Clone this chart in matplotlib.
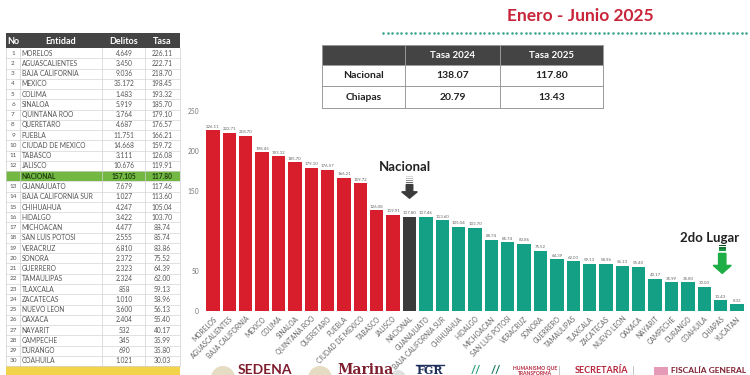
#!/usr/bin/env python3
"""Tasa de delitos por entidad, Enero - Junio 2025."""

import matplotlib

matplotlib.use("Agg")

import matplotlib.pyplot as plt
from matplotlib.patches import Rectangle, FancyArrow, Circle

plt.rcParams["font.family"] = ["Lato", "DejaVu Sans"]

# ---- data -------------------------------------------------------------
estados = [
    "MORELOS", "AGUASCALIENTES", "BAJA CALIFORNIA", "MEXICO", "COLIMA", "SINALOA",
    "QUINTANA ROO", "QUERETARO", "PUEBLA", "CIUDAD DE MEXICO", "TABASCO", "JALISCO",
    "NACIONAL", "GUANAJUATO", "BAJA CALIFORNIA SUR", "CHIHUAHUA", "HIDALGO",
    "MICHOACAN", "SAN LUIS POTOSI", "VERACRUZ", "SONORA", "GUERRERO", "TAMAULIPAS",
    "TLAXCALA", "ZACATECAS", "NUEVO LEON", "OAXACA", "NAYARIT", "CAMPECHE",
    "DURANGO", "COAHUILA", "CHIAPAS", "YUCATAN",
]
tasas = [
    226.11, 222.71, 218.70, 198.45, 193.32, 185.70, 179.10, 176.57, 166.21, 159.72,
    126.08, 119.91, 117.80, 117.46, 113.60, 105.04, 103.70, 88.74, 85.74, 83.86,
    75.52, 64.39, 62.00, 59.13, 58.96, 56.13, 55.40, 40.17, 35.99, 35.80, 30.03,
    13.43, 8.33,
]
delitos = [
    "4.649", "3.450", "9.036", "35.172", "1.483", "5.919", "3.764", "4.687", "11.751",
    "14.668", "3.111", "10.676", "157.105", "7.679", "1.027", "4.247", "3.422", "4.477",
    "2.555", "6.810", "2.372", "2.323", "2.324", "858", "1.010", "3.600", "2.404",
    "532", "345", "690", "1.021",
]
resumen_filas = ["Nacional", "Chiapas"]
resumen_cols = ["Tasa 2024", "Tasa 2025"]
resumen_2024 = [138.07, 20.79]
resumen_2025 = [117.80, 13.43]
y_ticks = [0, 50, 150, 200, 250]

RED = "#d81e2c"
TEAL = "#14a085"
DARK = "#3b3b3b"
HEAD = "#444444"
GRAY_TXT = "#555555"

W, H = 750, 375
fig = plt.figure(figsize=(7.5, 3.75), dpi=100)
fig.patch.set_facecolor("white")

# overlay in pixel coordinates for the tables and decorations
ov = fig.add_axes([0, 0, 1, 1])
ov.set_xlim(0, W)
ov.set_ylim(H, 0)
ov.axis("off")

# ---- left table ---------------------------------------------------------
col_x = [6, 20, 102, 145, 180]
head_top, head_h = 33, 15
row_h = 10.26
ov.add_patch(Rectangle((col_x[0], head_top), col_x[-1] - col_x[0], head_h, color=HEAD, lw=0))
for label, x0, x1 in zip(["No", "Entidad", "Delitos", "Tasa"], col_x[:-1], col_x[1:]):
    ov.text((x0 + x1) / 2, head_top + head_h / 2 + 0.5, label, color="white",
            fontsize=6.5, fontweight="bold", ha="center", va="center")

rank = 0
n_rows = len(delitos)
for i in range(n_rows + 1):
    y0 = head_top + head_h + i * row_h
    if i == n_rows:
        ov.add_patch(Rectangle((col_x[0], y0), col_x[-1] - col_x[0], row_h,
                               color="#f3d34a", lw=0))
        break
    name = estados[i]
    nacional = name == "NACIONAL"
    if nacional:
        ov.add_patch(Rectangle((col_x[0], y0), col_x[-1] - col_x[0], row_h,
                               color="#73b843", lw=0))
    else:
        rank += 1
        ov.text(13, y0 + row_h / 2, str(rank), fontsize=4.6, color=GRAY_TXT,
                ha="center", va="center")
    weight = "bold" if nacional else "normal"
    color = "#1e3d10" if nacional else GRAY_TXT
    ov.text(col_x[1] + 1.5, y0 + row_h / 2, name, fontsize=4.8, color=color,
            fontweight=weight, ha="left", va="center")
    ov.text(124, y0 + row_h / 2, delitos[i], fontsize=4.8, color=color,
            fontweight=weight, ha="center", va="center")
    ov.text(162, y0 + row_h / 2, f"{tasas[i]:.2f}", fontsize=4.8, color=color,
            fontweight=weight, ha="center", va="center")
    ov.plot([col_x[0], col_x[-1]], [y0 + row_h, y0 + row_h], color="#d4d4d4", lw=0.5)
table_bottom = head_top + head_h + n_rows * row_h
for x in col_x:
    ov.plot([x, x], [head_top + head_h, table_bottom], color="#d0d0d0", lw=0.5)

# ---- title and summary table ------------------------------------------
ov.text(580, 16, "Enero - Junio 2025", color="#c8243a", fontsize=12.5,
        fontweight="bold", ha="center", va="center")
ov.scatter([383 + k * 4.6 for k in range(80)], [33] * 80, s=3.5, color="#3fa68f", lw=0)

t_x = [322, 405, 500, 603]
t_y = [45, 65, 86, 108]
ov.add_patch(Rectangle((t_x[0], t_y[0]), t_x[-1] - t_x[0], t_y[1] - t_y[0], color=HEAD, lw=0))
for label, x0, x1 in zip(resumen_cols, t_x[1:-1], t_x[2:]):
    ov.text((x0 + x1) / 2, (t_y[0] + t_y[1]) / 2, label, color="white", fontsize=7,
            fontweight="bold", ha="center", va="center")
for j, (fila, v24, v25) in enumerate(zip(resumen_filas, resumen_2024, resumen_2025)):
    yc = (t_y[j + 1] + t_y[j + 2]) / 2
    ov.text((t_x[0] + t_x[1]) / 2, yc, fila, fontsize=7.5, fontweight="bold",
            color="#222222", ha="center", va="center")
    ov.text((t_x[1] + t_x[2]) / 2, yc, f"{v24:.2f}", fontsize=7.5, fontweight="bold",
            color="#222222", ha="center", va="center")
    ov.text((t_x[2] + t_x[3]) / 2, yc, f"{v25:.2f}", fontsize=7.5, fontweight="bold",
            color="#222222", ha="center", va="center")
for y in t_y:
    ov.plot([t_x[0], t_x[-1]], [y, y], color="#9a9a9a", lw=0.7)
for x in t_x:
    ov.plot([x, x], [t_y[0], t_y[-1]], color="#9a9a9a", lw=0.7)

# ---- bar chart ----------------------------------------------------------
ax = fig.add_axes([203.2 / W, (H - 311) / H, 543.6 / W, 208 / H])
ax.set_facecolor("none")
colors = [DARK if e == "NACIONAL" else (RED if i < 12 else TEAL) for i, e in enumerate(estados)]
xs = list(range(len(estados)))
ax.bar(xs, tasas, width=0.82, color=colors)
for x, v in zip(xs, tasas):
    ax.text(x, v + 2, f"{v:.2f}", fontsize=3.2, color="#666666", ha="center", va="bottom")
ax.set_xlim(-0.6, len(estados) - 0.4)
ax.set_ylim(0, 260)
ax.set_yticks(y_ticks)
ax.set_yticklabels([str(t) for t in y_ticks], fontsize=4.8, color="#777777")
ax.set_xticks(xs)
ax.set_xticklabels(estados, rotation=45, ha="right", rotation_mode="anchor",
                   fontsize=4.8, color="#666666")
ax.tick_params(length=0, pad=3)
for s in ax.spines.values():
    s.set_visible(False)

ax.text(11.7, 180, "Nacional", fontsize=9.5, fontweight="bold", color="#222222",
        ha="center", va="center")
ax.add_patch(FancyArrow(12, 158, 0, -17, width=0.4, head_width=0.95, head_length=8,
                        length_includes_head=True, color=DARK, clip_on=False))
for k, a in enumerate([0.2, 0.35, 0.55, 0.75]):
    ax.add_patch(Rectangle((11.8, 167 - k * 2.4), 0.4, 1.6, color=DARK, alpha=a,
                           lw=0, clip_on=False))
ax.text(30.3, 91, "2do Lugar", fontsize=9.5, fontweight="bold", color="#222222",
        ha="center", va="center")
ax.add_patch(FancyArrow(31.1, 72, 0, -25, width=0.45, head_width=1.1, head_length=10,
                        length_includes_head=True, color="#1fae45", clip_on=False))
for k in range(3):
    ax.add_patch(Rectangle((30.875, 81 - k * 2.9), 0.45, 2.0,
                           color=["#0d4a25", "#157a37", "#1c9a42"][k], lw=0, clip_on=False))

# ---- footer logos -----------------------------------------------------
ov.add_patch(Circle((223, 378), 12, color="#e6dcc3", lw=0))
ov.text(238, 373.5, "SEDENA", fontsize=10, fontweight="bold", color="#7d1d2e",
        ha="left", va="baseline")
ov.add_patch(Circle((320, 378), 12, color="#e6dcc3", lw=0))
ov.text(337, 373.5, "Marina", fontsize=10, fontweight="bold", color="#7d1d2e",
        ha="left", va="baseline", family="DejaVu Serif")
ov.add_patch(Circle((398, 378), 8, color="#e0e0e0", lw=0))
ov.plot([416, 444], [365, 365], color="#1f2f5c", lw=1)
ov.text(430, 373.5, "FGR", fontsize=8, fontweight="bold", color="#1f2f5c",
        ha="center", va="baseline", family="DejaVu Serif")
ov.text(476, 373.5, "//", fontsize=8, fontweight="bold", color="#1f9a78",
        ha="center", va="baseline")
ov.text(496, 373.5, "//", fontsize=8, fontweight="bold", color="#137559",
        ha="center", va="baseline")
ov.text(535, 366, "HUMANISMO QUE\nTRANSFORMA", fontsize=3.6, fontweight="bold",
        color="#b4233a", ha="center", va="top", linespacing=0.9)
ov.plot([559, 559], [366, 376], color="#bbbbbb", lw=0.6)
ov.text(575, 373, "SECRETARÍA", fontsize=6.5, fontweight="bold", color="#b4233a",
        ha="left", va="baseline")
ov.plot([633, 633], [366, 376], color="#bbbbbb", lw=0.6)
ov.add_patch(Rectangle((654, 367), 14, 8, color="#e59ab8", lw=0))
ov.text(671, 373, "FISCALÍA GENERAL", fontsize=6, fontweight="bold", color="#7d1d2e",
        ha="left", va="baseline")

fig.savefig("out.png", dpi=100)
